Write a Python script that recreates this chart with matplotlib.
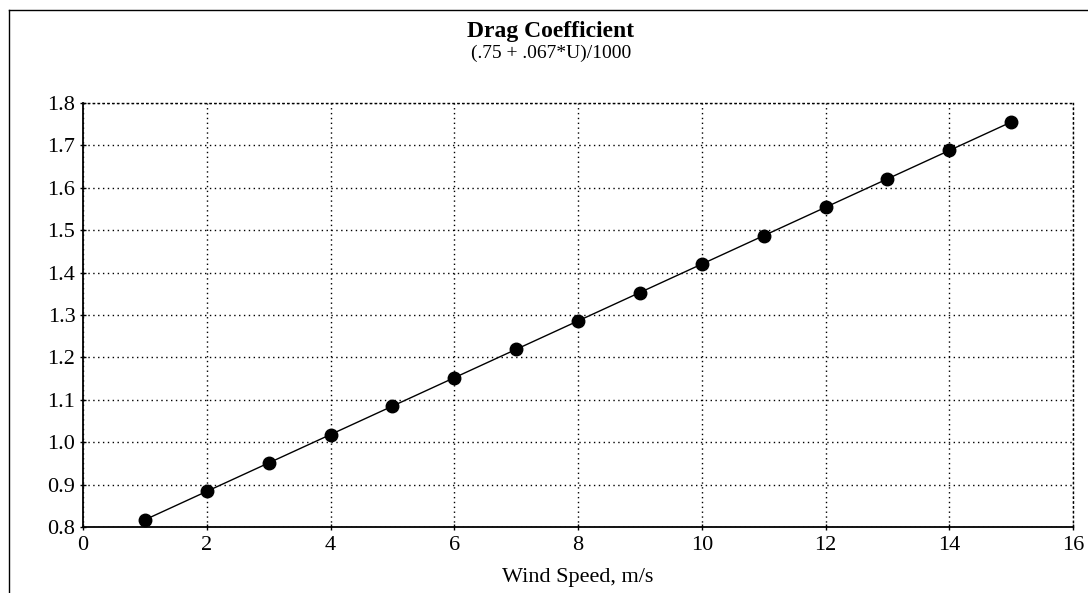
"""
Drag coefficient vs wind speed, recreated with matplotlib
"""

import matplotlib.pyplot as plt
from matplotlib.lines import Line2D

# data
wind_speed = [1, 2, 3, 4, 5, 6, 7, 8, 9, 10, 11, 12, 13, 14, 15]
drag_coeff = [0.817, 0.884, 0.951, 1.018, 1.085, 1.152, 1.219, 1.286,
              1.353, 1.420, 1.487, 1.554, 1.621, 1.688, 1.755]
x_ticks = [0, 2, 4, 6, 8, 10, 12, 14, 16]
y_ticks = [0.8, 0.9, 1.0, 1.1, 1.2, 1.3, 1.4, 1.5, 1.6, 1.7, 1.8]
y_tick_labels = ['0.8', '0.9', '1.0', '1.1', '1.2', '1.3', '1.4', '1.5', '1.6', '1.7', '1.8']

plt.rcParams['font.family'] = ['Liberation Serif', 'DejaVu Serif']

fig = plt.figure(figsize=(10.88, 5.93), dpi=100)
ax = fig.add_axes([83 / 1088, 1 - 527 / 593, (1073 - 83) / 1088, (527 - 103) / 593])

ax.plot(wind_speed, drag_coeff, color='black', linewidth=1, marker='o',
        markersize=9, markerfacecolor='black', markeredgecolor='black')

ax.set_xlim(0, 16)
ax.set_ylim(0.8, 1.8)
ax.set_xticks(x_ticks)
ax.set_yticks(y_ticks)
ax.set_yticklabels(y_tick_labels)
ax.tick_params(axis='both', labelsize=16, direction='inout', length=5, width=1)
ax.tick_params(axis='x', pad=4)
ax.tick_params(axis='y', pad=3)

ax.grid(True, color='black', linestyle=(0, (1, 2.5)), linewidth=1)
ax.set_axisbelow(True)
for side in ['top', 'right']:
    ax.spines[side].set_linestyle((0, (1, 2.5)))
    ax.spines[side].set_linewidth(1)
for side in ['left', 'bottom']:
    ax.spines[side].set_linewidth(1.3)

ax.set_xlabel('Wind Speed, m/s', fontsize=16, labelpad=9)

fig.text(551 / 1088, 1 - 31 / 593, 'Drag Coefficient', ha='center', va='center',
         fontsize=17, fontweight='bold')
fig.text(551 / 1088, 1 - 53 / 593, '(.75 + .067*U)/1000', ha='center', va='center',
         fontsize=14)

# outer frame (top and left only visible)
fig.add_artist(Line2D([9 / 1088, 1], [1 - 10 / 593, 1 - 10 / 593], color='black',
                      linewidth=1, transform=fig.transFigure))
fig.add_artist(Line2D([9 / 1088, 9 / 1088], [0, 1 - 10 / 593], color='black',
                      linewidth=1, transform=fig.transFigure))

plt.savefig('out.png', dpi=100)
